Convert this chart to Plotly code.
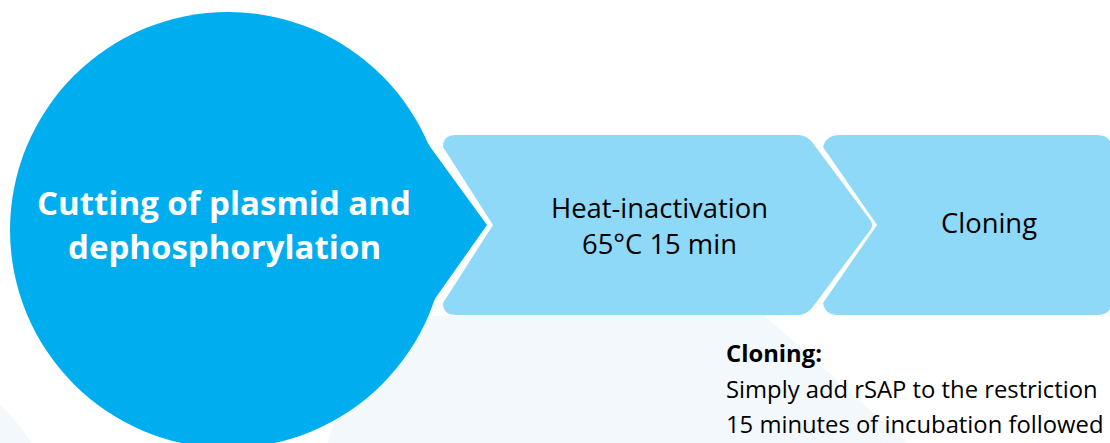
import plotly.graph_objects as go

# ---- content ----
main_step = ["Cutting of plasmid and", "dephosphorylation"]
step2_lines = ["Heat-inactivation", "65°C 15 min"]
step3_lines = ["Cloning"]
note_title = "Cloning:"
note_lines = ["Simply add rSAP to the restriction",
              "15 minutes of incubation followed"]

# ---- colours ----
DARK = "#00AEEF"
LIGHT = "#8FD9F8"
PALE = "#F2F8FB"
W, H = 1110, 443

fig = go.Figure()
shapes = []

def path(d, fill):
    return dict(type="path", path=d, fillcolor=fill, line=dict(width=0),
                xref="x", yref="y", layer="below")

# pale background decorations
shapes.append(dict(type="circle", x0=-150 - 216, x1=-150 + 216, y0=560 - 216, y1=560 + 216,
                   fillcolor=PALE, line=dict(width=0), xref="x", yref="y", layer="below"))
shapes.append(path("M 328,443 L 364,316 L 765,316 L 907,443 Z", PALE))

# step boxes (chevrons)
shapes.append(path("M 456,135 L 798,135 Q 806,135 812,142 L 871,221 Q 873,225 871,229 "
                   "L 812,308 Q 806,315 798,315 L 456,315 Q 443,315 443,303 L 493,225 "
                   "L 443,147 Q 443,135 456,135 Z", LIGHT))
shapes.append(path("M 840,135 L 1097,135 Q 1112,135 1112,150 L 1112,300 Q 1112,315 1097,315 "
                   "L 838,315 Q 825,315 823,303 L 877,225 L 823,147 Q 826,135 840,135 Z", LIGHT))

# white halo round the tip of the main drop
shapes.append(path("M 421,128 L 491.5,225 L 425,318.5 L 300,225 Z", "#FFFFFF"))
# main drop: circle + tip
shapes.append(dict(type="circle", x0=10, x1=446, y0=12, y1=448, fillcolor=DARK,
                   line=dict(width=0), xref="x", yref="y", layer="below"))
shapes.append(path("M 423,137 L 487,225 L 427,310 L 300,225 Z", DARK))

ann = []
def text(x, y, s, size, color, bold=False, xanchor="center"):
    ann.append(dict(x=x, y=y, xref="x", yref="y", text=("<b>%s</b>" % s) if bold else s,
                    showarrow=False, xanchor=xanchor, yanchor="middle",
                    font=dict(family="Open Sans", size=size, color=color)))

text(224, 202, main_step[0], 33, "#FFFFFF", bold=True)
text(224, 246, main_step[1], 33, "#FFFFFF", bold=True)
text(659, 207, step2_lines[0], 27.4, "#000000")
text(659, 243, step2_lines[1], 27.4, "#000000")
text(989, 222, step3_lines[0], 27.4, "#000000")
text(724, 353, note_title, 23.8, "#000000", bold=True, xanchor="left")
text(724, 389, note_lines[0], 23.8, "#000000", xanchor="left")
text(724, 424, note_lines[1], 23.8, "#000000", xanchor="left")

fig.update_layout(
    width=W, height=H, margin=dict(l=0, r=0, t=0, b=0),
    paper_bgcolor="#FFFFFF", plot_bgcolor="#FFFFFF",
    xaxis=dict(range=[0, W], visible=False, fixedrange=True),
    yaxis=dict(range=[H, 0], visible=False, fixedrange=True),
    shapes=shapes, annotations=ann, showlegend=False,
)
fig.write_html("out.html", config={"displayModeBar": False},
               post_script="document.body.style.margin='0';document.body.style.overflow='hidden';")
